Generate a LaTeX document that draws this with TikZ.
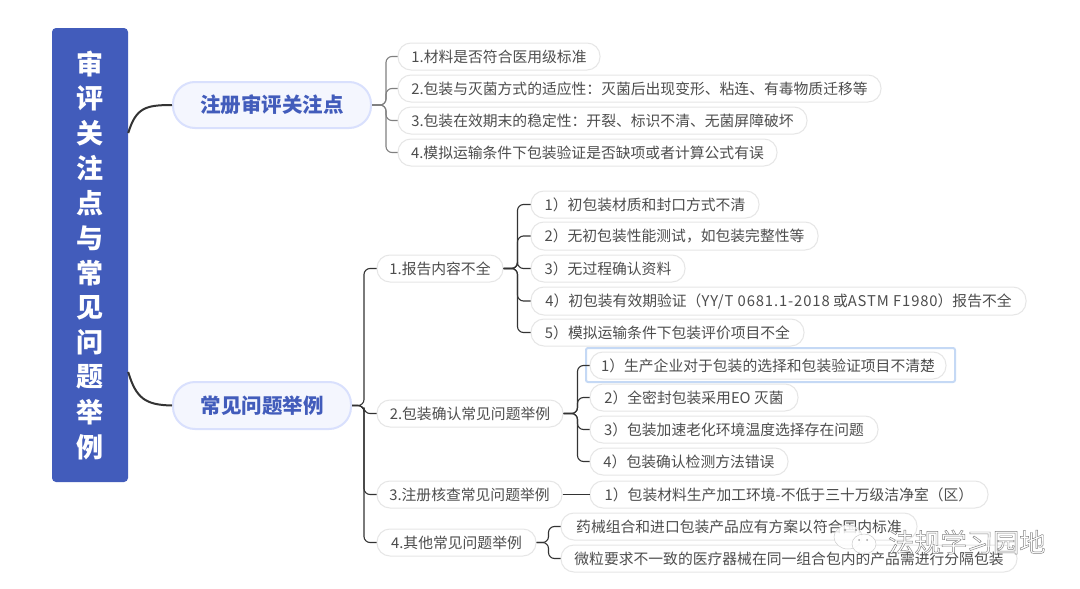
\documentclass[tikz,border=0pt]{standalone}
\usepackage{fontspec}
\setmainfont{Noto Sans CJK SC}
\definecolor{rootblue}{HTML}{425CBB}
\definecolor{mainfill}{HTML}{F4F6FE}
\definecolor{mainedge}{HTML}{D9E0FD}
\definecolor{leafedge}{HTML}{E6E6E6}
\definecolor{leaftext}{HTML}{4D4D4D}
\definecolor{linedark}{HTML}{333333}
\definecolor{hilite}{HTML}{C5D9F5}
\tikzset{
  x=1pt,y=-1pt,
  leafbox/.style={draw=leafedge,line width=1pt,fill=white,rounded corners=13pt,inner sep=0pt,text=leaftext,font=\fontsize{14.8}{17}\selectfont},
  mainbox/.style={draw=mainedge,line width=2pt,fill=mainfill,rounded corners=22pt,inner sep=0pt,text=rootblue,font=\fontsize{20.5}{24}\bfseries\selectfont},
  rootbox/.style={fill=rootblue,rounded corners=4pt,inner sep=0pt,text=white,align=center},
  link/.style={draw=linedark,line width=1.1pt,rounded corners=6pt},
  rootlink/.style={draw=linedark,line width=2pt},
  hibox/.style={draw=hilite,line width=2pt,rounded corners=2pt},
  wm/.style={font=\fontsize{26.2}{29}\selectfont,inner sep=0pt}
}
\newcommand{\bx}[7][leafbox]{\node[#1,minimum width={(#5-#3)*1pt},minimum height={(#6-#4)*1pt}] (#2) at ({(#3+#5)/2},{(#4+#6)/2}) {#7};}
\newcommand{\widelatin}[1]{{\addfontfeature{LetterSpace=6}#1}}
\begin{document}
\begin{tikzpicture}
\useasboundingbox (0,0) rectangle (1080,589);
\fill[white] (0,0) rectangle (1080,589);
% root
\bx[rootbox]{root}{52}{28}{128}{482}{}
\foreach \c [count=\i from 0] in {审,评,关,注,点,与,常,见,问,题,举,例}
  \node[text=white,font=\fontsize{27}{30}\bfseries\selectfont,inner sep=0pt] (r\i) at (90,{64+\i*34.8}) {\c};
% main
\bx[mainbox]{ma}{173}{82}{371}{128}{注册审评关注点}
\bx[mainbox]{mb}{173}{382}{351}{429}{常见问题举例}
% first group
\bx{a1}{398}{43}{600}{70}{1.材料是否符合医用级标准}
\bx{a2}{398}{75}{881}{102}{2.包装与灭菌方式的适应性：灭菌后出现变形、粘连、有毒物质迁移等}
\bx{a3}{398}{107}{807}{134}{3.包装在效期末的稳定性：开裂、标识不清、无菌屏障破坏}
\bx{a4}{398}{139}{777}{166}{4.模拟运输条件下包装验证是否缺项或者计算公式有误}
% second-level
\bx{b1}{377}{255}{503}{282}{1.报告内容不全}
\bx{b2}{377}{400}{563}{427}{2.包装确认常见问题举例}
\bx{b3}{377}{481}{562}{508}{3.注册核查常见问题举例}
\bx{b4}{377}{529}{536}{556}{4.其他常见问题举例}
% b1 children
\bx{c1}{531}{191}{759}{218}{1）初包装材质和封口方式不清}
\bx{c2}{531}{222}{818}{250}{2）无初包装性能测试，如包装完整性等}
\bx{c3}{531}{255}{685}{282}{3）无过程确认资料}
\bx{c4}{531}{287}{1026}{315}{4）初包装有效期验证（\widelatin{YY/T 0681.1-2018} 或\widelatin{ASTM F1980}）报告不全}
\bx{c5}{531}{319}{804}{346}{5）模拟运输条件下包装评价项目不全}
% b2 children
\bx{d1}{590}{352}{946}{379}{1）生产企业对于包装的选择和包装验证项目不清楚}
\bx{d2}{590}{384}{798}{411}{2）全密封包装采用EO 灭菌}
\bx{d3}{590}{416}{878}{443}{3）包装加速老化环境温度选择存在问题}
\bx{d4}{590}{448}{788}{475}{4）包装确认检测方法错误}
\draw[hibox] (586,348) rectangle (955,382);
% b3, b4 children
\bx{e1}{590}{481}{988}{508}{1）包装材料生产加工环境-不低于三十万级洁净室（区）}
\bx{f1}{561}{513}{917}{540}{药械组合和进口包装产品应有方案以符合国内标准}
\bx{f2}{561}{545}{1017}{572}{微粒要求不一致的医疗器械在同一组合包内的产品需进行分隔包装}
% connectors
\draw[rootlink] (root.east |- 0,133) .. controls (136,108) and (145,105) .. (ma.west);
\draw[rootlink] (root.east |- 0,372) .. controls (136,398) and (145,405) .. (mb.west);
\foreach \c in {a1,a2,a3,a4} \draw[link,draw=gray] (ma.east) -- ++(14,0) |- (\c.west);
\foreach \c in {b1,b2,b3,b4} \draw[link] (mb.east) -- ++(12,0) |- (\c.west);
\foreach \c in {c1,c2,c3,c4,c5} \draw[link] (b1.east) -- ++(14,0) |- (\c.west);
\foreach \c in {d1,d2,d3,d4} \draw[link] (b2.east) -- ++(14,0) |- (\c.west);
\draw[link] (b3.east) -- (e1.west);
\foreach \c in {f1,f2} \draw[link] (b4.east) -- ++(12,0) |- (\c.west);
% watermark
\fill[white,draw=gray!45,line width=.5pt,opacity=.85] (848,537) ellipse (14 and 12);
\fill[white,draw=gray!45,line width=.5pt,opacity=.9] (864,544) ellipse (12 and 10);
\fill[gray!70] (845,530) circle (1.3) (856,530) circle (1.3) (859,540) circle (1) (867,540) circle (1);
\node[wm,anchor=west] (wmtext) at (888,542) {\special{pdf:code 2 Tr 0.45 w 0.5 G 1 g}法规学习园地\special{pdf:code 0 Tr}};
\end{tikzpicture}
\end{document}
